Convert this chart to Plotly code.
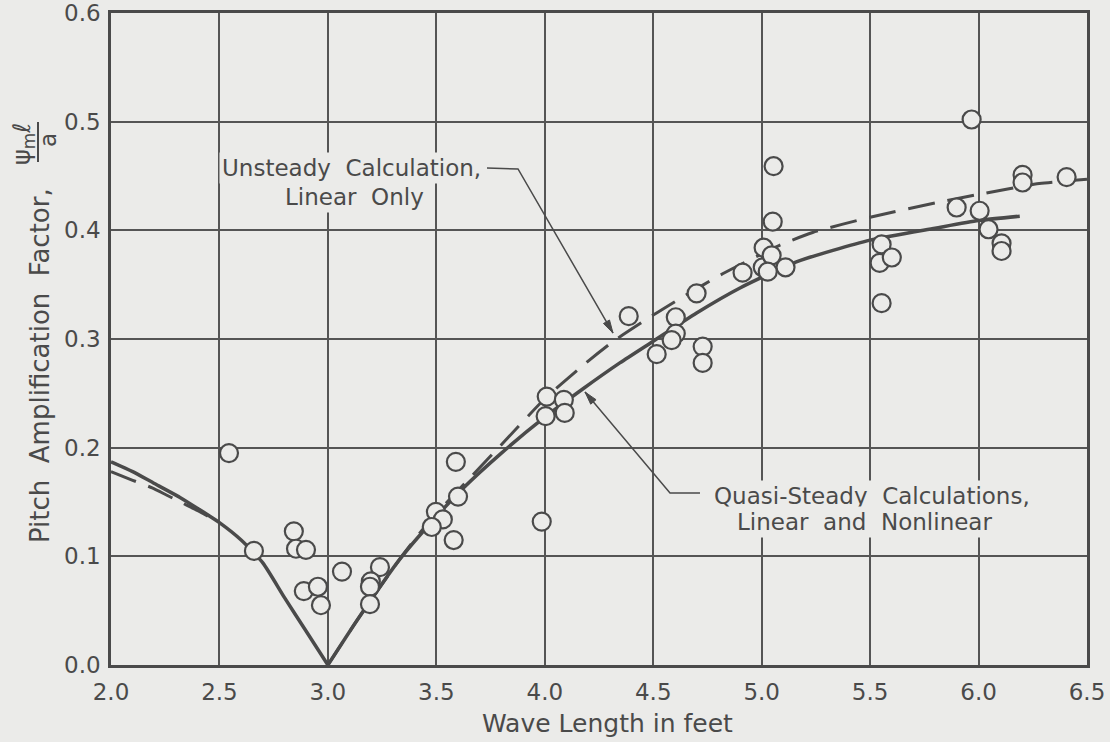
import math
import plotly.graph_objects as go

# ---------------- data ----------------
obs_x = [2.544, 2.659, 2.843, 2.853, 2.899, 2.889, 2.954, 2.968, 3.065, 3.240, 3.198, 3.194, 3.194,
         3.590, 3.600, 3.498, 3.530, 3.479, 3.580, 3.986, 4.009, 4.004, 4.088, 4.092,
         4.387, 4.604, 4.604, 4.585, 4.516, 4.700, 4.728, 4.728, 4.912, 5.005, 5.110,
         5.055, 5.051, 5.009, 5.046, 5.028,
         5.553, 5.544, 5.600, 5.553,
         5.968, 5.899, 6.005, 6.046, 6.106, 6.106, 6.203, 6.203, 6.406]
obs_y = [0.195, 0.105, 0.123, 0.107, 0.106, 0.068, 0.072, 0.055, 0.086, 0.090, 0.077, 0.072, 0.056,
         0.187, 0.155, 0.141, 0.134, 0.127, 0.115, 0.132, 0.247, 0.229, 0.244, 0.232,
         0.321, 0.320, 0.305, 0.299, 0.286, 0.342, 0.293, 0.278, 0.361, 0.366, 0.366,
         0.459, 0.408, 0.384, 0.377, 0.362,
         0.387, 0.370, 0.375, 0.333,
         0.502, 0.421, 0.418, 0.401, 0.388, 0.381, 0.451, 0.444, 0.449]

# Quasi-steady calculation (solid), two branches meeting at the cusp
qs_left_x = [2.0, 2.1, 2.2, 2.32, 2.4, 2.5, 2.6, 2.7, 2.8, 2.9, 3.0]
qs_left_y = [0.187, 0.178, 0.167, 0.154, 0.144, 0.131, 0.115, 0.094, 0.062, 0.031, 0.0]
qs_right_x = [3.0, 3.134, 3.33, 3.484, 3.62, 3.8, 4.0, 4.175, 4.346, 4.5, 4.7, 4.9, 5.16, 5.5, 5.8, 6.0, 6.19]
qs_right_y = [0.0, 0.041, 0.097, 0.133, 0.162, 0.195, 0.228, 0.254, 0.278, 0.298, 0.324, 0.347, 0.371, 0.391, 0.402, 0.409, 0.413]

# Unsteady calculation (dashed)
us_left_x = [2.0, 2.1, 2.19, 2.26, 2.33, 2.40, 2.5]
us_left_y = [0.178, 0.170, 0.163, 0.156, 0.149, 0.142, 0.131]
us_right_x = [3.0, 3.134, 3.33, 3.45, 3.55, 3.64, 3.82, 4.0, 4.19, 4.31, 4.5, 4.63, 4.82, 5.08, 5.235, 5.5, 5.82, 6.0, 6.28, 6.5]
us_right_y = [0.0, 0.041, 0.097, 0.128, 0.150, 0.169, 0.207, 0.245, 0.278, 0.297, 0.322, 0.338, 0.360, 0.386, 0.398, 0.412, 0.426, 0.433, 0.443, 0.447]

x_ticks = [2.0, 2.5, 3.0, 3.5, 4.0, 4.5, 5.0, 5.5, 6.0, 6.5]
y_ticks = [0.0, 0.1, 0.2, 0.3, 0.4, 0.5, 0.6]

# ---------------- style ----------------
BG = '#ebebe9'
INK = '#4a4a4a'
GRID = '#555555'
FONT = 'DejaVu Sans'

L, R, T, B = 111, 23, 13, 77
W, H = 1110, 742
PW, PH = W - L - R, H - T - B


def px(x):
    return (x - L) / PW


def py(y):
    return (H - B - y) / PH


fig = go.Figure()

dash = '27px,13px'
for xs, ys in [(us_left_x, us_left_y), (us_right_x, us_right_y)]:
    fig.add_trace(go.Scatter(x=xs, y=ys, mode='lines', hoverinfo='skip',
                             line=dict(color=INK, width=3, dash=dash, shape='spline', smoothing=0.6)))
for xs, ys in [(qs_left_x, qs_left_y), (qs_right_x, qs_right_y)]:
    fig.add_trace(go.Scatter(x=xs, y=ys, mode='lines', hoverinfo='skip',
                             line=dict(color=INK, width=3.5, shape='spline', smoothing=0.6)))

fig.add_trace(go.Scatter(x=obs_x, y=obs_y, mode='markers',
                         marker=dict(symbol='circle', size=18, color=BG,
                                     line=dict(color=INK, width=2.2))))

annotations = []
# curve labels (one annotation per line to control spacing)
label_lines = [
    ('Unsteady  Calculation,', 351, 168),
    ('Linear  Only', 354, 197),
    ('Quasi-Steady  Calculations,', 872, 496),
    ('Linear  and  Nonlinear', 864, 522),
]
for txt, xx, yy in label_lines:
    annotations.append(dict(text=txt, x=px(xx), y=py(yy), xref='paper', yref='paper',
                            xanchor='center', yanchor='middle', showarrow=False,
                            bgcolor=BG, borderpad=2,
                            font=dict(family=FONT, size=23, color=INK)))

# axis titles
annotations.append(dict(text='Wave Length in feet', x=px(607), y=py(723), xref='paper', yref='paper',
                        xanchor='center', yanchor='middle', showarrow=False,
                        font=dict(family=FONT, size=25, color=INK)))
annotations.append(dict(text='Pitch  Amplification  Factor,', x=px(40), y=py(366),
                        xref='paper', yref='paper', xanchor='center', yanchor='middle',
                        textangle=-90, showarrow=False,
                        font=dict(family=FONT, size=26, color=INK)))
annotations.append(dict(text='ψ<sub>m</sub>ℓ', x=px(24), y=py(144),
                        xref='paper', yref='paper', xanchor='center', yanchor='middle',
                        textangle=-90, showarrow=False,
                        font=dict(family=FONT, size=24, color=INK)))
annotations.append(dict(text='a', x=px(48), y=py(140),
                        xref='paper', yref='paper', xanchor='center', yanchor='middle',
                        textangle=-90, showarrow=False,
                        font=dict(family=FONT, size=23, color=INK)))


def leader(points_px, head_len=13, head_half=3.5):
    """Polyline leader in pixel coordinates ending in a filled arrowhead."""
    out = []
    path = 'M ' + ' L '.join(f'{px(a):.5f},{py(b):.5f}' for a, b in points_px)
    out.append(dict(type='path', xref='paper', yref='paper', path=path,
                    line=dict(color=INK, width=1.5)))
    (x0, y0), (x1, y1) = points_px[-2], points_px[-1]
    d = math.hypot(x1 - x0, y1 - y0)
    ux, uy = (x1 - x0) / d, (y1 - y0) / d
    bx, by = x1 - ux * head_len, y1 - uy * head_len
    nx, ny = -uy, ux
    pts = [(x1, y1), (bx + nx * head_half, by + ny * head_half), (bx - nx * head_half, by - ny * head_half)]
    hp = 'M ' + ' L '.join(f'{px(a):.5f},{py(b):.5f}' for a, b in pts) + ' Z'
    out.append(dict(type='path', xref='paper', yref='paper', path=hp,
                    fillcolor=INK, line=dict(color=INK, width=1)))
    return out


shapes = []
shapes += leader([(487, 168), (518, 169), (613, 333)])
shapes += leader([(700, 493), (670, 493), (585, 392)])
shapes.append(dict(type='line', xref='paper', yref='paper', x0=px(38), x1=px(38), y0=py(122), y1=py(162),
                   line=dict(color=INK, width=2)))

fig.update_layout(
    width=W, height=H,
    margin=dict(l=L, r=R, t=T, b=B, pad=0, autoexpand=False),
    paper_bgcolor=BG, plot_bgcolor=BG,
    showlegend=False,
    annotations=annotations,
    shapes=shapes,
    font=dict(family=FONT, color=INK),
)
fig.update_xaxes(range=[2.0, 6.5], tickvals=x_ticks, ticktext=[f'{v:.1f}' for v in x_ticks],
                 showgrid=True, gridcolor=GRID, gridwidth=1.8, automargin=False,
                 showline=True, linecolor=INK, linewidth=2.5, mirror=True,
                 zeroline=False, ticks='', ticklabelstandoff=5,
                 tickfont=dict(family=FONT, size=23, color=INK))
fig.update_yaxes(range=[0.0, 0.6], tickvals=y_ticks, ticktext=[f'{v:.1f}' for v in y_ticks],
                 showgrid=True, gridcolor=GRID, gridwidth=1.8, automargin=False,
                 showline=True, linecolor=INK, linewidth=2.5, mirror=True,
                 zeroline=False, ticks='', ticklabelstandoff=3,
                 tickfont=dict(family=FONT, size=23, color=INK))

fig.write_html('out.html')
